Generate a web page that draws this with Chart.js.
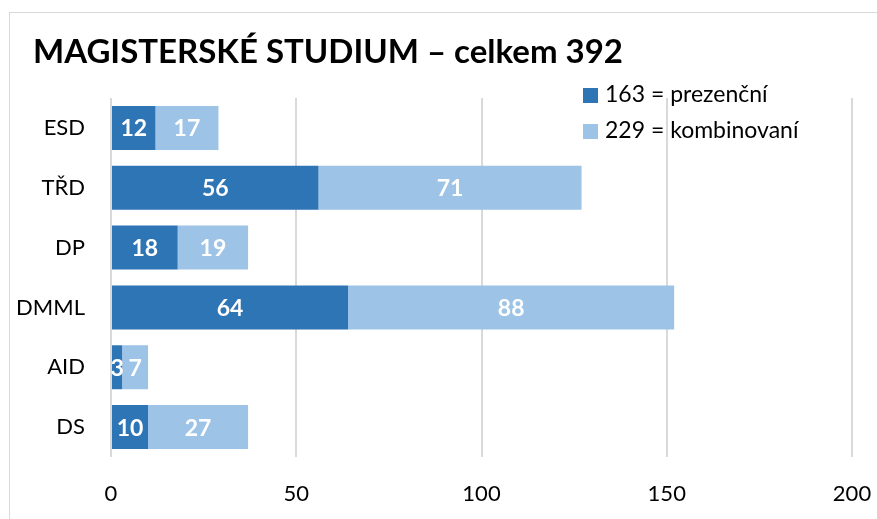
<!DOCTYPE html>
<html>
<head>
    <title>Magisterské studium</title>
    <script src="https://cdn.jsdelivr.net/npm/chart.js"></script>
    <style>
        body {
            margin: 0;
            background: #fff;
            font-family: Lato, "Open Sans", sans-serif;
            overflow: hidden;
        }
        #wrap {
            position: relative;
            width: 877px;
            height: 519px;
            overflow: hidden;
        }
        #frame {
            position: absolute;
            left: 9px;
            top: 12px;
            width: 900px;
            height: 600px;
            border: 1px solid #d9d9d9;
        }
        #title {
            position: absolute;
            left: 33px;
            top: 30px;
            font-size: 33px;
            font-weight: bold;
            line-height: 40px;
            color: #000;
            white-space: nowrap;
        }
        #legend {
            position: absolute;
            left: 583px;
            top: 80px;
            font-size: 23px;
            color: #000;
        }
        .item {
            height: 36px;
            line-height: 26px;
            white-space: nowrap;
        }
        .box {
            display: inline-block;
            width: 15px;
            height: 15px;
            margin-right: 7px;
            vertical-align: -1px;
        }
        canvas {
            position: absolute;
            left: 0;
            top: 0;
        }
    </style>
</head>
<body>
<div id="wrap">
    <div id="frame"></div>
    <canvas id="myChart" width="877" height="519"></canvas>
    <div id="title">MAGISTERSKÉ STUDIUM – celkem 392</div>
    <div id="legend"></div>
</div>

<script>
    const categories = ['ESD', 'TŘD', 'DP', 'DMML', 'AID', 'DS'];
    const prezencni = [12, 56, 18, 64, 3, 10];
    const kombinovani = [17, 71, 19, 88, 7, 27];
    const seriesNames = ['163 = prezenční', '229 = kombinovaní'];
    const xTicks = [0, 50, 100, 150, 200];
    const colors = ['#2e75b6', '#9dc3e6'];

    // white numbers in the middle of each segment
    const barLabels = {
        id: 'barLabels',
        afterDatasetsDraw(chart) {
            const ctx = chart.ctx;
            ctx.save();
            ctx.fillStyle = '#fff';
            ctx.font = 'bold 23px Lato, sans-serif';
            ctx.textAlign = 'center';
            ctx.textBaseline = 'middle';
            chart.data.datasets.forEach((ds, i) => {
                chart.getDatasetMeta(i).data.forEach((bar, j) => {
                    const p = bar.getProps(['x', 'y', 'base'], true);
                    ctx.fillText(ds.data[j], (p.x + p.base) / 2, p.y + 1);
                });
            });
            ctx.restore();
        }
    };

    const chart = new Chart(document.getElementById('myChart'), {
        type: 'bar',
        data: {
            labels: categories,
            datasets: [
                { label: seriesNames[0], data: prezencni, backgroundColor: colors[0] },
                { label: seriesNames[1], data: kombinovani, backgroundColor: colors[1] }
            ]
        },
        options: {
            indexAxis: 'y',
            responsive: false,
            animation: false,
            layout: { padding: { top: 98, right: 25, left: 0, bottom: 0 } },
            datasets: {
                bar: { barPercentage: 0.735, categoryPercentage: 1 }
            },
            plugins: {
                legend: { display: false },
                tooltip: { enabled: false }
            },
            scales: {
                x: {
                    stacked: true,
                    min: 0,
                    max: 200,
                    afterBuildTicks(axis) {
                        axis.ticks = xTicks.map(v => ({ value: v }));
                    },
                    afterFit(axis) {
                        axis.height = 62;
                        axis.paddingLeft = 0;
                        axis.paddingRight = 0;
                    },
                    grid: { color: '#d9d9d9', lineWidth: 2, drawTicks: false },
                    border: { display: false },
                    ticks: {
                        padding: 24,
                        color: '#000',
                        font: { family: 'Lato', size: 22 }
                    }
                },
                y: {
                    stacked: true,
                    afterFit(axis) { axis.width = 111; },
                    grid: { display: false },
                    border: { display: false },
                    ticks: {
                        padding: 18,
                        color: '#000',
                        font: { family: 'Lato', size: 22 }
                    }
                }
            }
        },
        plugins: [barLabels]
    });

    const legendDiv = document.getElementById('legend');
    chart.data.datasets.forEach(ds => {
        legendDiv.innerHTML += `<div class="item"><span class="box" style="background:${ds.backgroundColor}"></span>${ds.label}</div>`;
    });
</script>
</body>
</html>
